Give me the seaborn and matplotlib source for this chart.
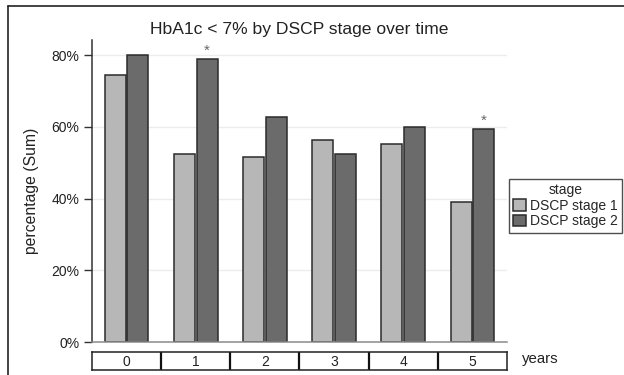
import matplotlib
matplotlib.use("Agg")
import matplotlib.pyplot as plt
from matplotlib.lines import Line2D
import seaborn as sns
import pandas as pd

# Share of patients with HbA1c < 7%, per year of follow-up and DSCP stage
years = ["0", "1", "2", "3", "4", "5"]
stage_labels = ["DSCP stage 1", "DSCP stage 2"]
stage1_pct = [74.4, 52.4, 51.7, 56.3, 55.2, 38.9]
stage2_pct = [80.0, 78.9, 62.7, 52.3, 60.0, 59.3]
# years where stage 2 differs significantly from stage 1
significant = [False, True, False, False, False, True]

df = pd.DataFrame({
    "years": years * 2,
    "stage": [stage_labels[0]] * len(years) + [stage_labels[1]] * len(years),
    "pct": stage1_pct + stage2_pct,
})

sns.set_theme(style="white")
plt.rcParams["font.family"] = ["Liberation Sans", "DejaVu Sans"]

fig = plt.figure(figsize=(6.24, 3.75), dpi=100)
W, H = 624, 375

def box(x0, y0, x1, y1):
    return [x0 / W, 1 - y1 / H, (x1 - x0) / W, (y1 - y0) / H]

ax = fig.add_axes(box(92, 40, 507, 342))
palette = {stage_labels[0]: "#b7b7b7", stage_labels[1]: "#6b6b6b"}
sns.barplot(data=df, x="years", y="pct", hue="stage", order=years,
            hue_order=stage_labels, palette=palette, width=0.66, gap=0.08,
            edgecolor="#2b2b2b", linewidth=1.1, saturation=1, ax=ax)

ax.set_xlim(-0.5, len(years) - 0.5)
ax.set_ylim(0, 84.2)
ax.set_yticks([0, 20, 40, 60, 80])
ax.set_yticklabels([f"{v}%" for v in [0, 20, 40, 60, 80]], fontsize=10, color="#222222")
ax.set_xticks([])
ax.set_xlabel("")
ax.set_ylabel("percentage (Sum)", fontsize=11.3, color="#222222", labelpad=9)
ax.tick_params(axis="y", left=True, length=6, width=1, color="#333333", pad=3)
for y in [20, 40, 60, 80]:
    ax.axhline(y, color="#ececec", lw=1, zorder=0)
for s in ["top", "right"]:
    ax.spines[s].set_visible(False)
ax.spines["left"].set_color("#333333")
ax.spines["left"].set_linewidth(1.1)
ax.spines["bottom"].set_color("#8a8a8a")
ax.spines["bottom"].set_linewidth(1.1)

# significance markers above stage-2 bars
offset = 0.66 / 4
for i, (flag, v) in enumerate(zip(significant, stage2_pct)):
    if flag:
        ax.text(i + offset, v + 2.4, "*", ha="center", va="center",
                fontsize=11, color="#666666")

ax.set_title("HbA1c < 7% by DSCP stage over time", fontsize=12.6,
             color="#222222", pad=4)

handles, labels = ax.get_legend_handles_labels()
leg = ax.legend(handles, labels, title="stage", loc="upper left",
                bbox_to_anchor=(509 / W, 1 - 179 / H),
                bbox_transform=fig.transFigure, fontsize=10,
                title_fontsize=10, frameon=True, fancybox=False,
                borderpad=0.3, handlelength=0.9, handleheight=0.9,
                handletextpad=0.3, labelspacing=0.12, borderaxespad=0)
leg.get_frame().set_edgecolor("#222222")
leg.get_frame().set_linewidth(1.0)

# category strip below the bars
strip = fig.add_axes(box(92, 352, 507, 370))
strip.set_xlim(-0.5, len(years) - 0.5)
strip.set_ylim(0, 1)
strip.set_xticks([])
strip.set_yticks([])
for s in strip.spines.values():
    s.set_color("#222222")
    s.set_linewidth(1.1)
for i in range(1, len(years)):
    strip.axvline(i - 0.5, color="#111111", lw=1.6)
for i, label in enumerate(years):
    strip.text(i, 0.45, label, ha="center", va="center", fontsize=10,
               color="#222222")
fig.text(522 / W, 1 - 359 / H, "years", ha="left", va="center",
         fontsize=10.8, color="#222222")

# outer frame (left and top edges)
fig.add_artist(Line2D([8 / W, 8 / W], [0, 1 - 6 / H], transform=fig.transFigure,
                      color="#222222", lw=1.2))
fig.add_artist(Line2D([8 / W, 1], [1 - 6 / H, 1 - 6 / H], transform=fig.transFigure,
                      color="#222222", lw=1.2))

fig.savefig("out.png", dpi=100)
